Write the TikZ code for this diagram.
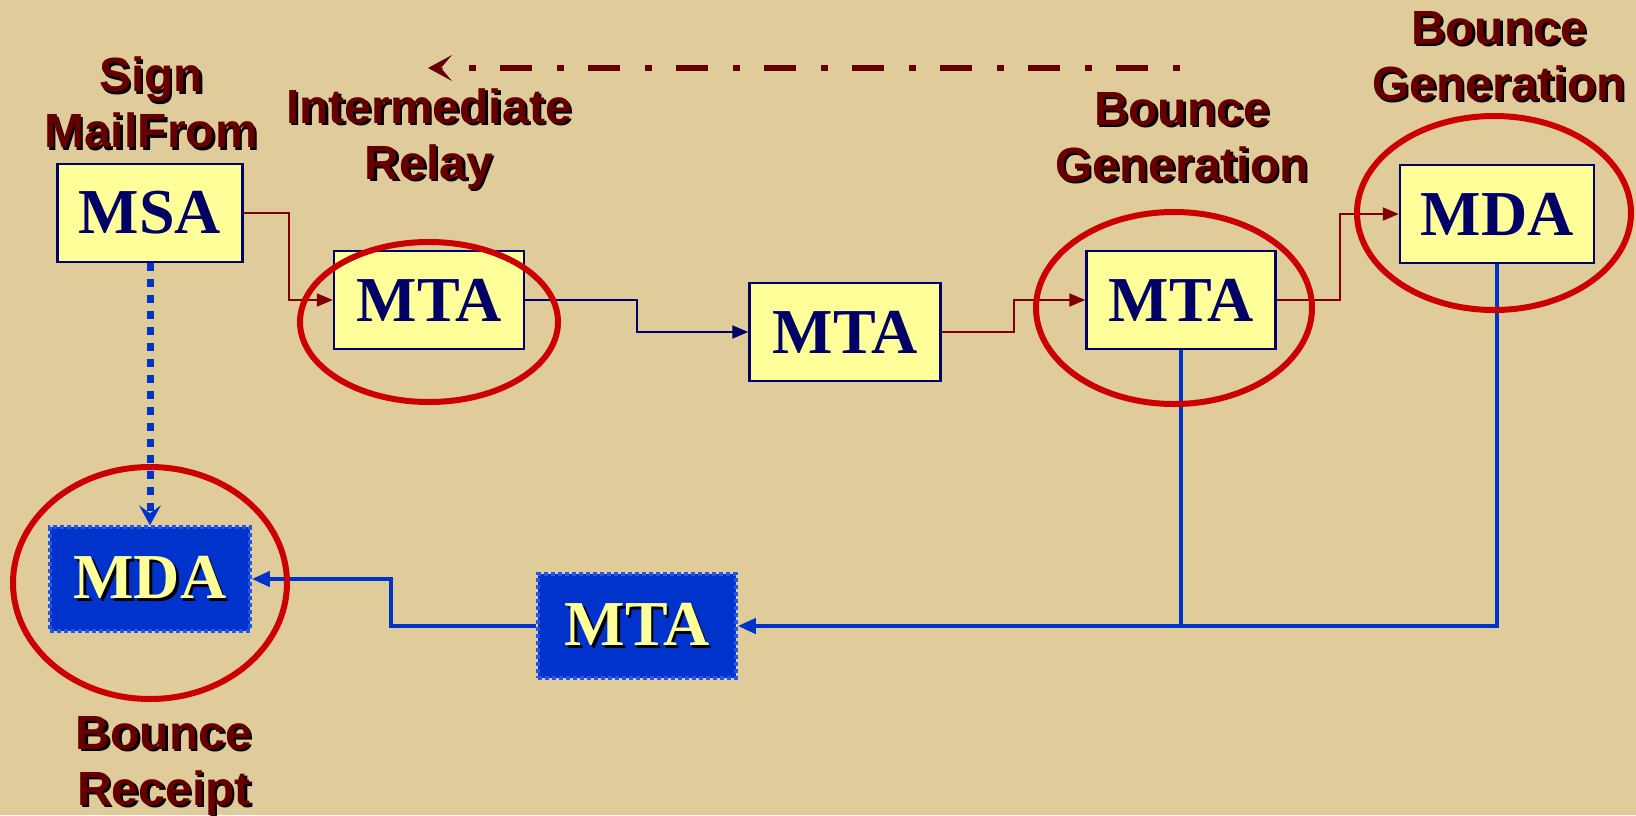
\documentclass[tikz,border=0pt]{standalone}
\usepackage{fontspec}
\setmainfont{Liberation Serif}
\newfontfamily\lblfamily{Liberation Sans}
\usetikzlibrary{arrows.meta,shapes.geometric}
\definecolor{bgc}{HTML}{E0CB9A}
\definecolor{yfill}{HTML}{FFFF99}
\definecolor{navyc}{HTML}{000066}
\definecolor{dredc}{HTML}{660000}
\definecolor{lnred}{HTML}{800000}
\definecolor{ellred}{HTML}{CC0000}
\definecolor{bluefill}{HTML}{0033CC}
\definecolor{bluedot}{HTML}{2255EE}
\newcommand\shtext[1]{\makebox[0pt][l]{\raisebox{-2.5pt}{\hspace{2.5pt}\color{black}#1}}#1}
\begin{document}
\begin{tikzpicture}[x=1pt,y=-1pt,
  ybox/.style={draw=navyc,line width=2.5pt,fill=yfill,text=navyc,
    font=\fontsize{64}{64}\selectfont\bfseries,minimum width=188pt,minimum height=98pt,inner sep=0pt},
  bbox/.style={draw=bluedot,dash pattern=on 4pt off 3pt,line width=3.5pt,fill=bluefill,text=yfill,
    font=\fontsize{64}{64}\selectfont\bfseries,minimum width=198pt,minimum height=104pt,inner sep=0pt},
  lbl/.style={text=dredc,align=center,font=\lblfamily\fontsize{48}{56}\selectfont\bfseries,inner sep=0pt},
  ring/.style={ellipse,draw=ellred,line width=6pt,inner sep=0pt},
  redc/.style={draw=lnred,line width=2pt,-{Triangle[length=16pt,width=13pt]}},
  navyln/.style={draw=navyc,line width=2pt,-{Triangle[length=16pt,width=13pt]}},
  bluec/.style={draw=bluefill,line width=4pt},
  bluearr/.style={bluec,-{Triangle[length=18pt,width=15pt]}}
]
\fill[bgc] (0,0) rectangle (1636,815);
\useasboundingbox (0,0) rectangle (1636,815);

% boxes
\node[ybox,minimum width=185pt] (msa) at (150,213) {MSA};
\node[ybox,minimum width=190pt] (mta1) at (429,300) {MTA};
\node[ybox,minimum width=191pt] (mta2) at (845,332) {MTA};
\node[ybox,minimum width=189pt] (mta3) at (1181,300) {MTA};
\node[ybox,minimum width=194pt] (mdat) at (1497,214) {MDA};
\node[bbox,minimum width=200pt] (mdab) at (150,579) {\raisebox{-3pt}{\shtext{MDA}}};
\node[bbox] (mtab) at (637,626) {\shtext{MTA}};

% labels
\node[lbl] (l1) at (151,104) {\shtext{Sign}\\\shtext{MailFrom}};
\node[lbl] (l2) at (429,140) {\shtext{Intermediate}\\\shtext{Relay}};
\node[lbl] (l3) at (1182,138) {\shtext{Bounce}\\\shtext{Generation}};
\node[lbl] (l4) at (1499,57) {\shtext{Bounce}\\\shtext{Generation}};
\node[lbl] (l5) at (164,767) {\shtext{Bounce}\\\shtext{Receipt}};

% connectors
\draw[redc] (msa.east) -- ++(45,0) |- (mta1.west);
\draw[navyln] (mta1.east) -- ++(112,0) |- (mta2.west);
\draw[redc] (mta2.east) -- ++(72,0) |- (mta3.west);
\draw[redc] (mta3.east) -- ++(63,0) |- (mdat.west);
\draw[bluec] (mta3.south) -- (mta3.south |- mtab.east);
\draw[bluearr] (mdat.south) |- (mtab.east);
\draw[bluearr] (mtab.west) -- ++(-145,0) |- (mdab.east);
\draw[draw=bluefill,line width=7pt,dash pattern=on 8pt off 8pt,-{Stealth[length=20pt,width=22pt,inset=8pt,line width=0pt]}] (msa.south) -- (mdab.north);

% dash-dot feedback arrow
\coordinate (ds) at (1180,68);
\coordinate (de) at (428,68);
\draw[draw=dredc,line width=5.5pt,dash pattern=on 7pt off 25pt on 32pt off 24pt] (ds) -- ([xshift=40pt]de);
\draw[draw=dredc,line width=0pt,-{Stealth[length=24pt,width=26pt,inset=11pt,fill=dredc]}] ([xshift=14pt]de) -- (de);

% rings
\node[ring,minimum width=258pt,minimum height=160pt] (r1) at (429,322) {};
\node[ring,minimum width=276pt,minimum height=192pt] (r2) at (1174,308) {};
\node[ring,minimum width=274pt,minimum height=194pt] (r3) at (1494,213) {};
\node[ring,minimum width=274pt,minimum height=232pt] (r4) at (150,583) {};
\end{tikzpicture}
\end{document}
